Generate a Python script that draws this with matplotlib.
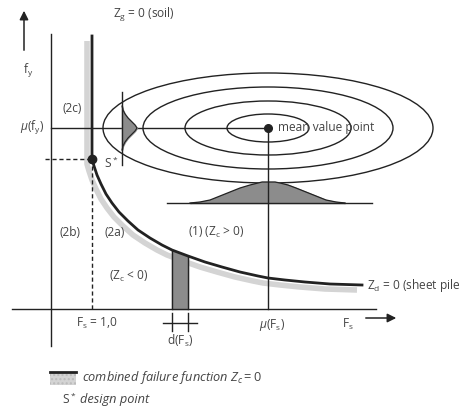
import matplotlib
matplotlib.use("Agg")
import matplotlib.pyplot as plt
from matplotlib.patches import Ellipse
import numpy as np

plt.rcParams["font.family"] = ["Open Sans", "DejaVu Sans"]
plt.rcParams["mathtext.fontset"] = "custom"
plt.rcParams["mathtext.rm"] = "Open Sans"
plt.rcParams["mathtext.it"] = "Open Sans:italic"

# diagram units (origin top-left, y grows downward)
axis_x = 51
axis_y = 309
design_pt = (92, 159)
mean_pt = (268, 128)

# Z_d = 0 curve (sheet pile)
curve_x = [92, 94, 97, 101, 106, 112, 119, 128, 138, 150, 162, 172, 188,
           205, 222, 240, 258, 268, 285, 305, 330, 362]
curve_y = [159, 166, 175, 184, 194, 203, 212, 221, 230, 238, 245, 250, 256,
           262, 267, 272, 276, 278, 280, 282, 284, 285]

# Z_g = 0 line (soil)
soil_x = [92, 92]
soil_y = [36, 159]

# ellipses around the mean value point
ell_half_w = [165, 125, 83, 41]
ell_half_h = [55, 41, 27, 14]

# density of f_y (drawn sideways at x = 122)
side_bell_x0 = 122
side_bell_y = [106, 110, 114, 118, 122, 125, 128, 131, 134, 138, 142, 146, 150]
side_bell_w = [0, 1, 3, 6, 10, 13, 15, 13, 10, 6, 3, 1, 0]

# density of F_s (baseline y = 203)
low_bell_base = 203
low_bell_x = [190, 200, 210, 220, 230, 240, 250, 258, 262, 275, 280, 288,
              296, 306, 316, 326, 336, 345]
low_bell_y = [203, 202, 200, 196, 192, 188, 185, 183, 182, 182, 183, 185,
              188, 192, 196, 200, 202, 203]

# d(F_s) strip
strip_x = [172, 188]

ink = "#222222"
txt = "#444444"
grey = "#8c8c8c"
shadow = "#d4d4d4"
fs = 8.6

fig = plt.figure(figsize=(4.61, 4.09), dpi=100)
ax = fig.add_axes([0, 0, 1, 1])
ax.set_xlim(0, 461)
ax.set_ylim(409, 0)
ax.axis("off")

# shadow of the combined failure function
shx = np.array(soil_x + curve_x) - 5
shy = np.array(soil_y + curve_y) + 5
ax.plot(shx, shy, color=shadow, lw=4, solid_capstyle="butt", zorder=1)

# axes
ax.plot([axis_x, axis_x], [34, 346], color=ink, lw=1.0, zorder=3)
ax.plot([12, 376], [axis_y, axis_y], color=ink, lw=1.0, zorder=3)
ax.annotate("", xy=(24, 8), xytext=(24, 53),
            arrowprops=dict(arrowstyle="-|>", color=ink, lw=1.1, mutation_scale=13))
ax.annotate("", xy=(399, 318), xytext=(363, 318),
            arrowprops=dict(arrowstyle="-|>", color=ink, lw=1.1, mutation_scale=13))

# ellipses
for hw, hh in zip(ell_half_w, ell_half_h):
    ax.add_patch(Ellipse(mean_pt, 2 * hw, 2 * hh, fill=False, ec=ink, lw=1.0, zorder=3))

# mean lines
ax.plot([axis_x, mean_pt[0]], [mean_pt[1], mean_pt[1]], color=ink, lw=1.0, zorder=3)
ax.plot([mean_pt[0], mean_pt[0]], [mean_pt[1], axis_y], color=ink, lw=1.0, zorder=4)

# side density
ax.fill_betweenx(side_bell_y, side_bell_x0,
                 side_bell_x0 + np.array(side_bell_w), color=grey, zorder=3)
ax.plot(side_bell_x0 + np.array(side_bell_w), side_bell_y, color=ink, lw=0.8, zorder=3)
ax.plot([side_bell_x0, side_bell_x0], [92, 165], color=ink, lw=1.0, zorder=4)

# lower density
ax.fill_between(low_bell_x, low_bell_y, low_bell_base, color=grey, zorder=3)
ax.plot(low_bell_x, low_bell_y, color=ink, lw=0.9, zorder=3)
ax.plot([167, 372], [low_bell_base, low_bell_base], color=ink, lw=1.0, zorder=3)

# d(F_s) strip under the curve
sx = [x for x in curve_x if strip_x[0] <= x <= strip_x[1]]
sy = [y for x, y in zip(curve_x, curve_y) if strip_x[0] <= x <= strip_x[1]]
ax.fill_between(sx, sy, axis_y, color=grey, zorder=2)
for x, y in zip(sx, sy):
    ax.plot([x, x], [y, axis_y], color=ink, lw=1.0, zorder=2)
ax.plot([163, 197], [323, 323], color=ink, lw=1.0)
for x in strip_x:
    ax.plot([x, x], [313, 331], color=ink, lw=1.0)

# dashed projection of the design point
ax.plot([45, design_pt[0]], [design_pt[1], design_pt[1]], color=ink, lw=1.0,
        ls=(0, (3, 2)), zorder=3)
ax.plot([design_pt[0], design_pt[0]], [design_pt[1], axis_y], color=ink, lw=1.0,
        ls=(0, (3, 2)), zorder=3)

# limit state lines
ax.plot(soil_x + curve_x, soil_y + curve_y, color=ink, lw=2.0, zorder=5)
ax.plot(*design_pt, "o", color=ink, ms=6, zorder=6)
ax.plot(*mean_pt, "o", color=ink, ms=5.5, zorder=6)

# labels
t = dict(color=txt, fontsize=fs, va="center")
ax.text(113, 15, r"Z$_\mathrm{g}$ = 0 (soil)", ha="left", **t)
ax.text(28, 71, r"f$_\mathrm{y}$", ha="center", **t)
ax.text(44, 128, r"$\mu$(f$_\mathrm{y}$)", ha="right", **t)
ax.text(72, 108, "(2c)", ha="center", **t)
ax.text(104, 163, r"S$^*$", ha="left", **t)
ax.text(278, 128, "mean value point", ha="left", **t)
ax.text(70, 232, "(2b)", ha="center", **t)
ax.text(115, 232, "(2a)", ha="center", **t)
ax.text(188, 232, r"(1) (Z$_\mathrm{c}$ > 0)", ha="left", **t)
ax.text(129, 276, r"(Z$_\mathrm{c}$ < 0)", ha="center", **t)
ax.text(367, 285, r"Z$_\mathrm{d}$ = 0 (sheet pile", ha="left", **t)
ax.text(97, 323, r"F$_\mathrm{s}$ = 1,0", ha="center", **t)
ax.text(180, 341, r"d(F$_\mathrm{s}$)", ha="center", **t)
ax.text(272, 325, r"$\mu$(F$_\mathrm{s}$)", ha="center", **t)
ax.text(348, 324, r"F$_\mathrm{s}$", ha="center", **t)

# legend
ax.fill_between([50, 76], 372, 385, color=shadow, hatch="....", ec="#bbbbbb", lw=0)
ax.plot([50, 76], [372, 372], color=ink, lw=2.0)
t["fontsize"] = 9.2
ax.text(82, 377, r"combined failure function $Z_c = 0$", ha="left",
        style="italic", **t)
ax.text(80, 399, "design point", ha="left", style="italic", **t)
t["fontsize"] = fs
ax.text(62, 399, r"S$^*$", ha="left", **t)

fig.savefig("out.png", dpi=100)
